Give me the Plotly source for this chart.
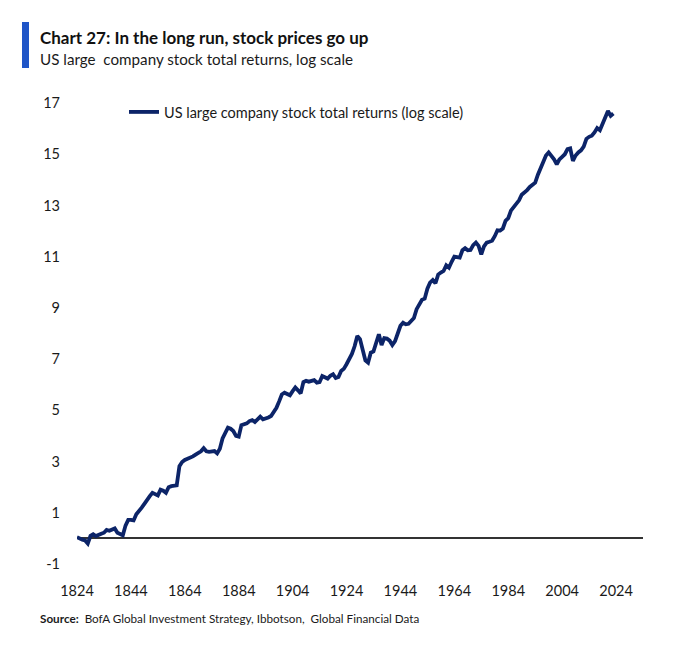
import plotly.graph_objects as go

years = list(range(1824, 2024))
values = [
    0.05, -0.02, -0.05, -0.08, -0.2, 0.1, 0.16, 0.09, 0.15, 0.18,      # 1824-1833
    0.22, 0.33, 0.3, 0.36, 0.39, 0.22, 0.17, 0.12, 0.5, 0.72,          # 1834-1843
    0.72, 0.7, 0.94, 1.05, 1.2, 1.35, 1.52, 1.65, 1.78, 1.72,          # 1844-1853
    1.68, 1.9, 1.86, 1.78, 2.0, 2.04, 2.06, 2.07, 2.82, 2.98,          # 1854-1863
    3.06, 3.1, 3.15, 3.2, 3.27, 3.32, 3.4, 3.52, 3.4, 3.38,            # 1864-1873
    3.4, 3.41, 3.32, 3.5, 3.9, 4.15, 4.32, 4.28, 4.19, 4.0,            # 1874-1883
    3.97, 4.42, 4.45, 4.49, 4.58, 4.62, 4.54, 4.63, 4.75, 4.65,        # 1884-1893
    4.67, 4.72, 4.78, 4.95, 5.1, 5.35, 5.62, 5.69, 5.63, 5.59,         # 1894-1903
    5.75, 5.89, 5.78, 5.66, 6.1, 6.15, 6.12, 6.14, 6.18, 6.08,         # 1904-1913
    6.1, 6.34, 6.3, 6.24, 6.35, 6.41, 6.26, 6.3, 6.54, 6.62,           # 1914-1923
    6.8, 7.0, 7.2, 7.5, 7.9, 7.78, 7.4, 6.95, 6.86, 7.25,              # 1924-1933
    7.3, 7.65, 7.97, 7.55, 7.82, 7.8, 7.72, 7.55, 7.7, 8.0,            # 1934-1943
    8.3, 8.42, 8.36, 8.38, 8.48, 8.6, 8.95, 9.15, 9.32, 9.36,          # 1944-1953
    9.75, 9.99, 10.09, 9.96, 10.3, 10.38, 10.44, 10.66, 10.57, 10.8,   # 1954-1963
    11.0, 10.98, 10.96, 11.25, 11.33, 11.25, 11.26, 11.45, 11.55, 11.42,  # 1964-1973
    11.09, 11.4, 11.55, 11.58, 11.62, 11.8, 12.03, 12.02, 12.1, 12.4,  # 1974-1983
    12.5, 12.8, 12.95, 13.05, 13.2, 13.42, 13.5, 13.6, 13.72, 13.82,   # 1984-1993
    13.89, 14.2, 14.45, 14.7, 14.95, 15.07, 14.95, 14.8, 14.61, 14.8,  # 1994-2003
    14.9, 15.0, 15.2, 15.23, 14.74, 14.95, 15.07, 15.15, 15.3, 15.6,   # 2004-2013
    15.68, 15.72, 15.85, 16.02, 15.94, 16.2, 16.4, 16.69, 16.5, 16.59, # 2014-2023
]

x_tick_vals = [1824, 1844, 1864, 1884, 1904, 1924, 1944, 1964, 1984, 2004, 2024]
y_tick_vals = [-1, 1, 3, 5, 7, 9, 11, 13, 15, 17]
y_tick_text = ["-1", "1", "3", "5", "7", "9", "11", "13", "15", "17"]

series_name = "US large company stock total returns (log scale)"
title_text = "Chart 27: In the long run, stock prices go up"
subtitle_text = "US large  company stock total returns, log scale"
source_label = "Source:"
source_text = "BofA Global Investment Strategy, Ibbotson,  Global Financial Data"

FONT = "Lato, Roboto, sans-serif"

# page offset (body margin) of 8 px
OFF = 8
PL, PR, PT, PB = 77, 643, 103, 564  # plot area in page pixels
W, H = 680 - OFF, 651 - OFF


def px(xp):
    return (xp - PL) / (PR - PL)


def py(yp):
    return (PB - yp) / (PB - PT)


fig = go.Figure()
fig.add_trace(go.Scatter(
    x=years, y=values, mode="lines", name=series_name,
    line=dict(color="#0c2468", width=3.8),
    showlegend=True,
))

fig.update_layout(
    width=W, height=H,
    margin=dict(l=PL - OFF, r=W - (PR - OFF), t=PT - OFF, b=H - (PB - OFF)),
    paper_bgcolor="white", plot_bgcolor="white",
    font=dict(family=FONT, color="#1a1a1a", size=15),
    showlegend=True,
    legend=dict(x=px(124), y=py(96), xanchor="left", yanchor="top",
                orientation="h", bgcolor="rgba(0,0,0,0)",
                font=dict(size=14.5, color="#1a1a1a", family=FONT)),
    xaxis=dict(range=[1824, 2034], tickvals=x_tick_vals, showgrid=False,
               zeroline=False, showline=False, ticks="",
               ticklabelstandoff=16, tickfont=dict(size=14.5)),
    yaxis=dict(range=[-1, 17], tickvals=y_tick_vals, ticktext=y_tick_text,
               showgrid=False,
               zeroline=True, zerolinecolor="#333333", zerolinewidth=1.5,
               showline=False, ticks="", ticklabelstandoff=16,
               tickfont=dict(size=14.5)),
)

fig.add_shape(type="rect", xref="paper", yref="paper",
              x0=px(22), x1=px(29), y0=py(68), y1=py(22),
              fillcolor="#1f55c7", line=dict(width=0))

fig.add_annotation(xref="paper", yref="paper", x=px(38), y=py(37),
                   text="<b>" + title_text + "</b>", showarrow=False,
                   xanchor="left", yanchor="middle",
                   font=dict(size=17, color="#111111", family=FONT))
fig.add_annotation(xref="paper", yref="paper", x=px(38), y=py(59),
                   text=subtitle_text, showarrow=False,
                   xanchor="left", yanchor="middle",
                   font=dict(size=15.2, color="#1a1a1a", family=FONT))
fig.add_annotation(xref="paper", yref="paper", x=px(38), y=py(618),
                   text="<b>" + source_label + "</b>  " + source_text, showarrow=False,
                   xanchor="left", yanchor="middle",
                   font=dict(size=11.7, color="#1a1a1a", family=FONT))

fig.write_html("out.html")
